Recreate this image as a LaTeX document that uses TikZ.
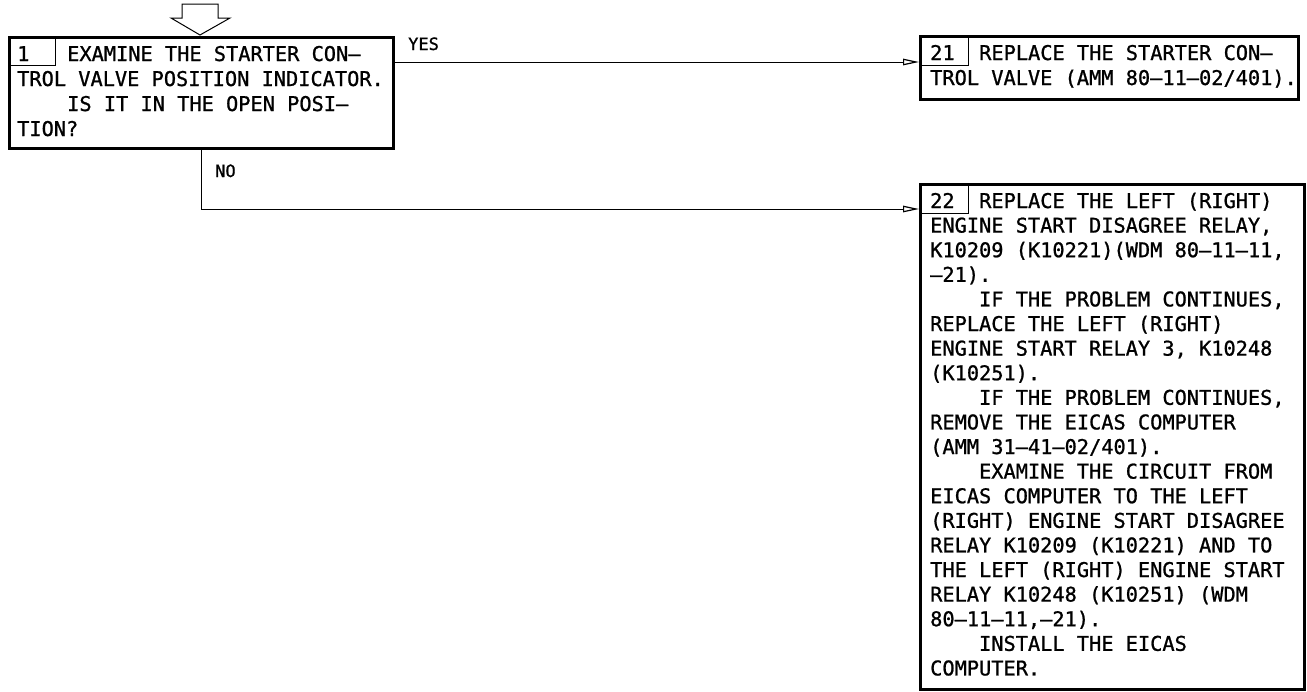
\documentclass[tikz,border=0pt]{standalone}
\usepackage{fontspec}
\newfontfamily\monof[FakeBold=1]{DejaVu Sans Mono}
\usetikzlibrary{arrows.meta}
\newcommand\indsp{\phantom{XXXX}}
\begin{document}
\begin{tikzpicture}[x=1pt,y=-1pt,
  box/.style={draw, line width=2.6pt, inner sep=0pt, anchor=north west},
  numbox/.style={draw, line width=0.9pt, inner sep=0pt, anchor=north west},
  txt/.style={font=\monof\fontsize{20.3}{24.4}\selectfont, anchor=base west, inner sep=0pt},
  lbl/.style={font=\monof\fontsize{17}{20}\selectfont, anchor=base west, inner sep=0pt},
  conn/.style={line width=0.9pt, -{Triangle[open,length=16pt,width=6.5pt,line width=1.2pt]}},
  blockarrow/.style={draw, line width=1pt, fill=white}]
\useasboundingbox (0,0) rectangle (1307,691);

% entry block arrow
\draw[blockarrow] (182,4) -- (218,4) -- (218,18) -- (230,18) -- (200,35) -- (171,18) -- (182,18) -- cycle;

% box 1
\node[box, minimum width=384pt, minimum height=111pt] (b1) at (8,36) {};
\node[numbox, minimum width=47pt, minimum height=29pt] (n1) at (8,36) {};
\node[txt] (n1t) at (17,61) {1};
\node[txt] (b1l1) at (67,61) {EXAMINE THE STARTER CON–};
\node[txt] (b1l2) at (17,86) {TROL VALVE POSITION INDICATOR.};
\node[txt] (b1l3) at (67,111) {IS IT IN THE OPEN POSI–};
\node[txt] (b1l4) at (17,136) {TION?};

% box 21
\node[box, minimum width=378pt, minimum height=63pt] (b21) at (919,35) {};
\node[numbox, minimum width=49pt, minimum height=30pt] (n21) at (919,35) {};
\node[txt] (n21t) at (930,60) {21};
\node[txt] (b21l1) at (979,60) {REPLACE THE STARTER CON–};
\node[txt] (b21l2) at (930,85) {TROL VALVE (AMM 80–11–02/401).};

% box 22
\node[box, minimum width=384pt, minimum height=505pt] (b22) at (919,183) {};
\node[numbox, minimum width=49pt, minimum height=30pt] (n22) at (919,183) {};
\node[txt] (n22t) at (930,208) {22};
\node[txt] (b22l1) at (979,208) {REPLACE THE LEFT (RIGHT)};
\foreach \t [count=\i] in {%
  {ENGINE START DISAGREE RELAY,},
  {K10209 (K10221)(WDM 80–11–11,},
  {–21).},
  {\indsp IF THE PROBLEM CONTINUES,},
  {REPLACE THE LEFT (RIGHT)},
  {ENGINE START RELAY 3, K10248},
  {(K10251).},
  {\indsp IF THE PROBLEM CONTINUES,},
  {REMOVE THE EICAS COMPUTER},
  {(AMM 31–41–02/401).},
  {\indsp EXAMINE THE CIRCUIT FROM},
  {EICAS COMPUTER TO THE LEFT},
  {(RIGHT) ENGINE START DISAGREE},
  {RELAY K10209 (K10221) AND TO},
  {THE LEFT (RIGHT) ENGINE START},
  {RELAY K10248 (K10251) (WDM},
  {80–11–11,–21).},
  {\indsp INSTALL THE EICAS},
  {COMPUTER.}}
  \node[txt] (b22l\i) at (930,{208+\i*24.6}) {\t};

% connectors
\coordinate (yesy) at (0,62);
\coordinate (noy) at (0,209);
\draw[conn] (b1.east |- yesy) -- (b21.west |- yesy);
\draw[conn] (b1.south) |- (b22.west |- noy);
\node[lbl] (yes) at (408,50) {YES};
\node[lbl] (no) at (215,177) {NO};
\end{tikzpicture}
\end{document}
